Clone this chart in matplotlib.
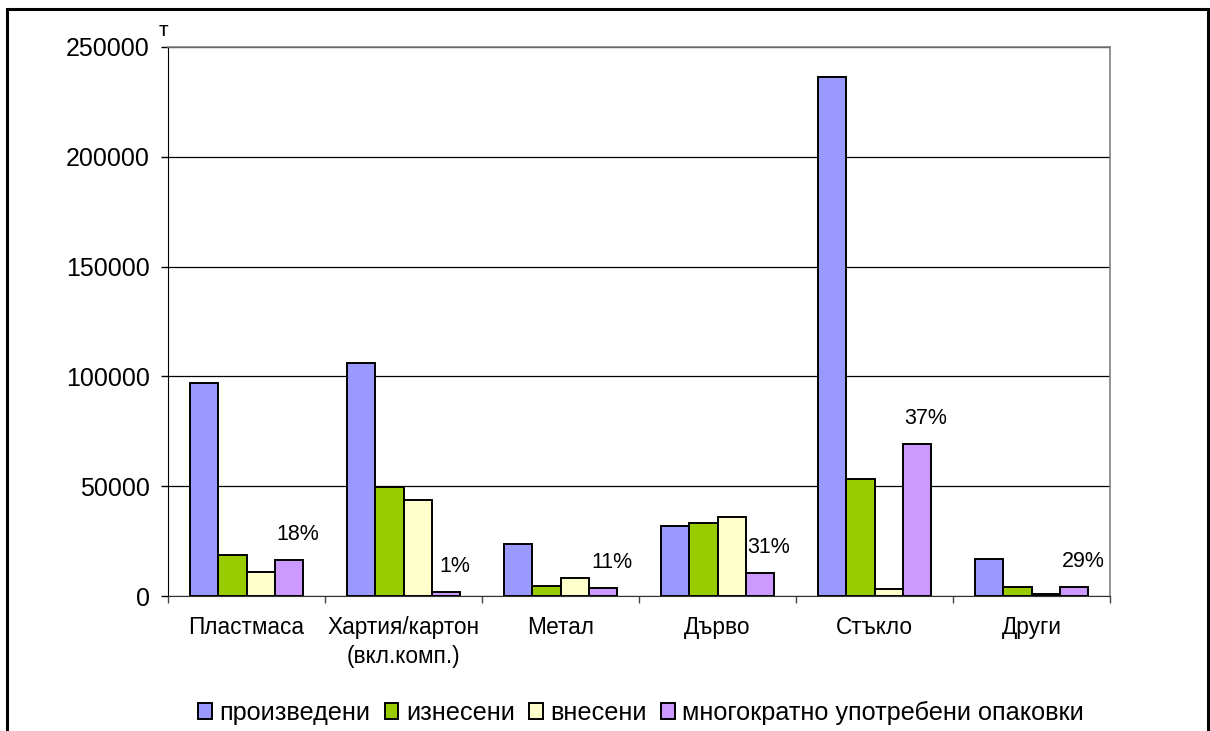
import numpy as np
import matplotlib.pyplot as plt
from matplotlib.patches import Rectangle

plt.rcParams["font.family"] = ["Liberation Sans", "DejaVu Sans"]

categories = ["Пластмаса", "Хартия/картон\n(вкл.комп.)", "Метал", "Дърво", "Стъкло", "Други"]
series_names = ["произведени", "изнесени", "внесени", "многократно употребени опаковки"]

produced = [97000, 106000, 23500, 32000, 236500, 17000]
exported = [18500, 49800, 4700, 33400, 53500, 4000]
imported = [11000, 43500, 8000, 36000, 3200, 1000]
reused = [16500, 1700, 3500, 10300, 69000, 4000]
reuse_pct = ["18%", "1%", "11%", "31%", "37%", "29%"]

colors = ["#9999FF", "#99CC00", "#FFFFCC", "#CC99FF"]

fig = plt.figure(figsize=(12.1, 7.31), dpi=100)
ax = fig.add_axes([168 / 1210, 1 - 596 / 731, (1110 - 168) / 1210, (596 - 47) / 731])

x = np.arange(len(categories))
width = 0.18
all_series = [produced, exported, imported, reused]
for i, (vals, name, c) in enumerate(zip(all_series, series_names, colors)):
    ax.bar(x + (i - 1.5) * width, vals, width, color=c, edgecolor="black",
           linewidth=1.4, label=name, zorder=3)

# percentage labels above the reuse bars
for xi, v, txt in zip(x, reused, reuse_pct):
    ax.annotate(txt, (xi + 1.5 * width, v), xytext=(6.5, 18.5), textcoords="offset points",
                ha="center", va="center", fontsize=15.5)

ax.set_xlim(-0.5, len(categories) - 0.5)
ax.set_ylim(0, 250000)
ax.set_yticks(np.arange(0, 250001, 50000))
ax.tick_params(axis="y", labelsize=18, length=5, width=1, pad=8, direction="out")
ax.yaxis.grid(True, color="black", linewidth=0.9, zorder=0)

ax.set_xticks(np.arange(len(categories) + 1) - 0.5)
ax.set_xticklabels([])
ax.tick_params(axis="x", which="major", length=5, width=1, direction="out", color="#444444")
ax.set_xticks(x, minor=True)
ax.set_xticklabels(categories, minor=True, fontsize=16.3, linespacing=1.35)
ax.tick_params(axis="x", which="minor", length=0, pad=14.5)

for side in ["top", "right"]:
    ax.spines[side].set_color("#808080")
    ax.spines[side].set_linewidth(1.2)
ax.spines["left"].set_color("black")
ax.spines["bottom"].set_color("#333333")

ax.text(-0.005, 1.03, "т", transform=ax.transAxes, fontsize=15,
        ha="center", va="center")

fig.legend(loc="center", bbox_to_anchor=(641 / 1210, 1 - 713 / 731), ncol=4,
           frameon=False, fontsize=18.2, handlelength=0.55, handleheight=0.55,
           handletextpad=0.3, columnspacing=0.55)

fig.patches.append(Rectangle((7 / 1210, -0.01), (1208 - 7) / 1210, 1 - 9 / 731 + 0.01,
                             transform=fig.transFigure, fill=False, edgecolor="black",
                             linewidth=2.2))

fig.savefig("out.png", dpi=100)
